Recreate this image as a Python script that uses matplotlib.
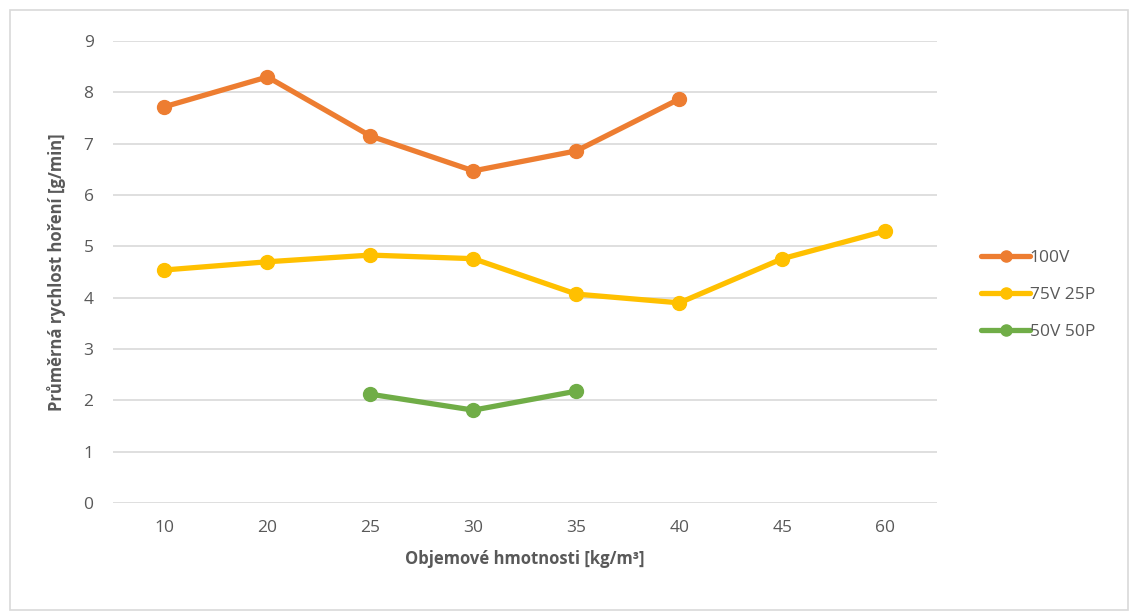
import numpy as np
from matplotlib import pyplot as plt
from matplotlib.patches import Rectangle

plt.rcParams['font.family'] = ['Open Sans', 'DejaVu Sans']

categories = ['10', '20', '25', '30', '35', '40', '45', '60']
v100 = [7.72, 8.30, 7.15, 6.47, 6.86, 7.87, None, None]
v75_25 = [4.54, 4.70, 4.83, 4.76, 4.07, 3.90, 4.76, 5.30]
v50_50 = [None, None, 2.12, 1.81, 2.18, None, None, None]

series = [('100V', v100, '#ED7D31'),
          ('75V 25P', v75_25, '#FFC000'),
          ('50V 50P', v50_50, '#70AD47')]

text_col = '#595959'

fig = plt.figure(figsize=(11.3, 6.12), dpi=100)
ax = fig.add_axes([0.1, 0.178, 0.729, 0.755])

x = np.arange(len(categories))
for name, vals, col in series:
    y = np.array([np.nan if v is None else v for v in vals])
    ax.plot(x, y, color=col, linewidth=3.8, marker='o', markersize=10,
            solid_capstyle='round', label=name)

ax.set_xlim(-0.5, len(categories) - 0.5)
ax.set_ylim(0, 9)
ax.set_yticks(range(10))
ax.set_xticks(x)
ax.set_xticklabels(categories)
ax.grid(axis='y', color='#d9d9d9', linewidth=1.2)
ax.set_axisbelow(True)
for s in ax.spines.values():
    s.set_visible(False)
ax.tick_params(length=0, labelsize=12.5, colors=text_col, pad=14)
ax.tick_params(axis='x', pad=12)

ax.set_ylabel('Průměrná rychlost hoření [g/min]', fontsize=12, fontweight='bold',
              color=text_col, labelpad=13)
ax.set_xlabel('Objemové hmotnosti [kg/m³]', fontsize=12, fontweight='bold',
              color=text_col, labelpad=10)

leg = ax.legend(loc='center left', bbox_to_anchor=(1.035, 0.45), frameon=False,
                fontsize=12.5, labelcolor=text_col, handlelength=2.8,
                handletextpad=0.0, labelspacing=1.2, markerscale=0.8)

# outer border like the Excel chart area
fig.patches.append(Rectangle((0.009, 0.004), 0.989, 0.98, transform=fig.transFigure,
                             fill=False, edgecolor='#d9d9d9', linewidth=1.2))

plt.savefig('out.png', dpi=100)
